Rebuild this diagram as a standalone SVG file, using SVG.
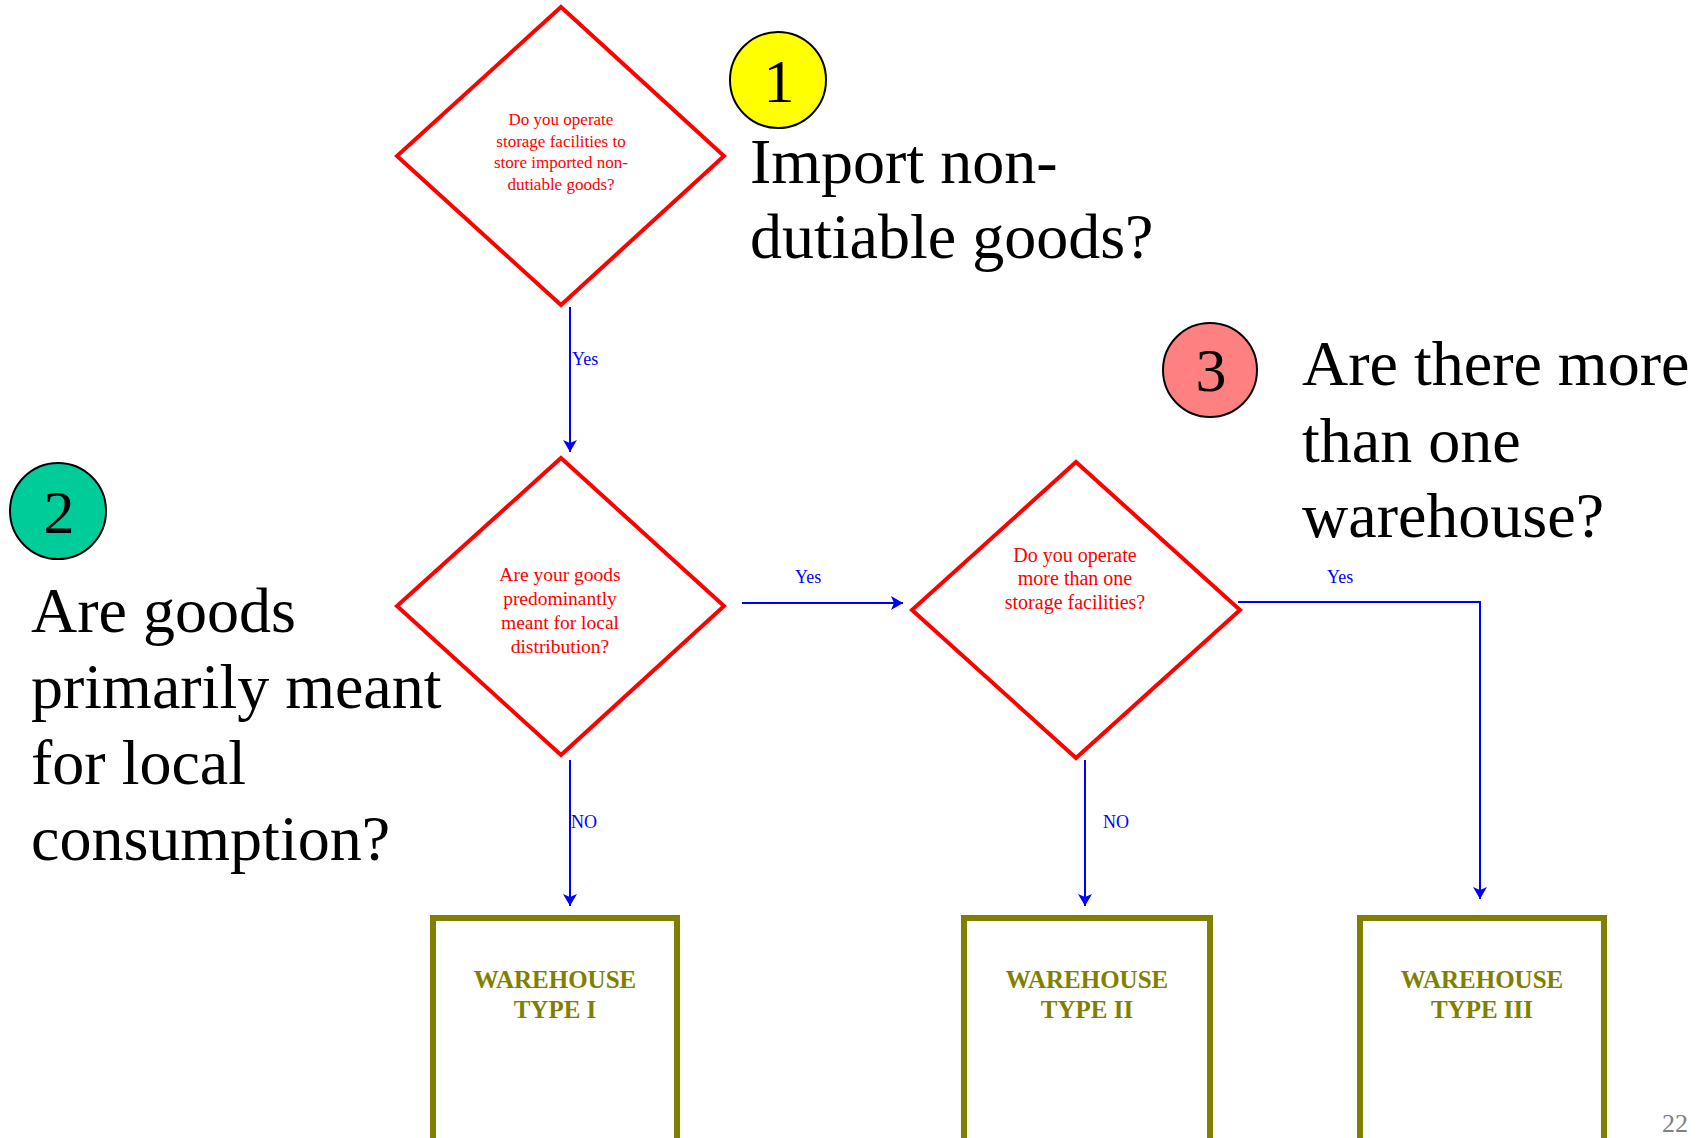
<svg xmlns="http://www.w3.org/2000/svg" width="1701" height="1138" viewBox="0 0 1701 1138">
<defs>
<marker id="arr" viewBox="0 0 12 14" refX="12" refY="7" markerWidth="12" markerHeight="14" markerUnits="userSpaceOnUse" orient="auto">
<path d="M0,0 L12,7 L0,14 L3,7 Z" fill="#0000FF"/>
</marker>
<style>
.dia{fill:#fff;stroke:#FF0000;stroke-width:4;stroke-linejoin:miter}
.dt{font-family:"Liberation Serif","Times New Roman",serif;fill:#FF0000;text-anchor:middle}
.box{fill:#fff;stroke:#808000;stroke-width:6}
.bt{font-family:"Liberation Serif","Times New Roman",serif;font-weight:bold;font-size:25px;fill:#808000;text-anchor:middle}
.con{fill:none;stroke:#0000FF;stroke-width:2}
.cl{font-family:"Liberation Serif","Times New Roman",serif;font-size:18px;fill:#0000FF}
.big{font-family:"Liberation Serif","Times New Roman",serif;font-size:64px;fill:#000}
.num{font-family:"Liberation Serif","Times New Roman",serif;font-size:62px;fill:#000;text-anchor:middle}
.circ{stroke:#000;stroke-width:2}
</style>
</defs>
<rect width="1701" height="1138" fill="#fff"/>

<g id="connectors">
<line class="con" x1="570" y1="307" x2="570" y2="452" marker-end="url(#arr)"/>
<text class="cl" x="572" y="365">Yes</text>
<line class="con" x1="742" y1="603" x2="903" y2="603" marker-end="url(#arr)"/>
<text class="cl" x="795" y="583">Yes</text>
<line class="con" x1="570" y1="760" x2="570" y2="906" marker-end="url(#arr)"/>
<text class="cl" x="571" y="828">NO</text>
<line class="con" x1="1085" y1="760" x2="1085" y2="906" marker-end="url(#arr)"/>
<text class="cl" x="1103" y="828">NO</text>
<polyline class="con" points="1238,602 1480,602 1480,899" marker-end="url(#arr)"/>
<text class="cl" x="1327" y="583">Yes</text>
</g>

<g id="d1">
<polygon class="dia" points="561,7 724,156 561,305 397,156"/>
<text class="dt" font-size="17" x="561" y="125">Do you operate</text>
<text class="dt" font-size="17" x="561" y="147">storage facilities to</text>
<text class="dt" font-size="17" x="561" y="168">store imported non-</text>
<text class="dt" font-size="17" x="561" y="190">dutiable goods?</text>
</g>

<g id="d2">
<polygon class="dia" points="561,458 724,606 561,755 397,606"/>
<text class="dt" font-size="19.5" x="560" y="581">Are your goods</text>
<text class="dt" font-size="19.5" x="560" y="605">predominantly</text>
<text class="dt" font-size="19.5" x="560" y="629">meant for local</text>
<text class="dt" font-size="19.5" x="560" y="653">distribution?</text>
</g>

<g id="d3">
<polygon class="dia" points="1076,462 1240,610 1076,758 912,610"/>
<text class="dt" font-size="20" x="1075" y="562">Do you operate</text>
<text class="dt" font-size="20" x="1075" y="585">more than one</text>
<text class="dt" font-size="20" x="1075" y="609">storage facilities?</text>
</g>

<g id="b1">
<rect class="box" x="433" y="918" width="244" height="240"/>
<text class="bt" x="555" y="988">WAREHOUSE</text>
<text class="bt" x="555" y="1018">TYPE I</text>
</g>
<g id="b2">
<rect class="box" x="964" y="918" width="246" height="240"/>
<text class="bt" x="1087" y="988">WAREHOUSE</text>
<text class="bt" x="1087" y="1018">TYPE II</text>
</g>
<g id="b3">
<rect class="box" x="1360" y="918" width="244" height="240"/>
<text class="bt" x="1482" y="988">WAREHOUSE</text>
<text class="bt" x="1482" y="1018">TYPE III</text>
</g>

<g id="c1">
<circle class="circ" cx="778" cy="80" r="48" fill="#FFFF00"/>
<text class="num" x="779" y="102">1</text>
</g>
<g id="t1">
<text class="big" x="750" y="183">Import non-</text>
<text class="big" x="750" y="258">dutiable goods?</text>
</g>

<g id="c2">
<circle class="circ" cx="58" cy="511" r="48" fill="#00CC99"/>
<text class="num" x="59" y="533">2</text>
</g>
<g id="t2">
<text class="big" x="31" y="632">Are goods</text>
<text class="big" x="31" y="708">primarily meant</text>
<text class="big" x="31" y="784">for local</text>
<text class="big" x="31" y="860">consumption?</text>
</g>

<g id="c3">
<circle class="circ" cx="1210" cy="370" r="47" fill="#FF8080"/>
<text class="num" x="1211" y="391">3</text>
</g>
<g id="t3">
<text class="big" x="1302" y="385">Are there more</text>
<text class="big" x="1302" y="462">than one</text>
<text class="big" x="1302" y="537">warehouse?</text>
</g>

<text x="1662" y="1132" font-family="Liberation Serif, serif" font-size="26" fill="#808080">22</text>
</svg>
